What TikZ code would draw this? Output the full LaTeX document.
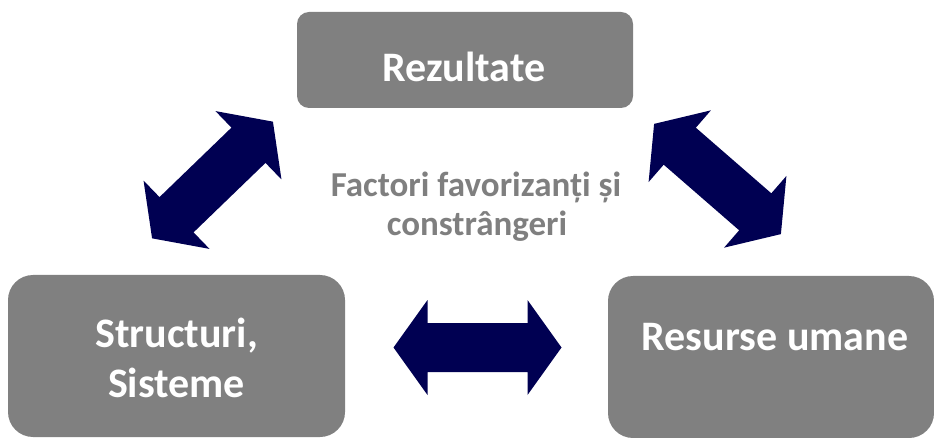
\documentclass[tikz,border=0pt]{standalone}
\usepackage{fontspec}
\setmainfont{Carlito}
\definecolor{boxgray}{RGB}{128,128,128}
\definecolor{navy}{RGB}{0,0,82}
\definecolor{txtgray}{RGB}{127,127,127}
\begin{document}
\begin{tikzpicture}[x=1pt,y=1pt,
  box/.style={fill=boxgray, draw=none, inner sep=0pt},
  lbl/.style={text=white, font=\fontsize{42}{48}\selectfont\bfseries, anchor=base, inner sep=0pt},
  mid/.style={text=txtgray, font=\fontsize{35}{38}\selectfont\bfseries, anchor=base, inner sep=0pt},
  barrow/.pic={\fill[navy] (84,0) -- (50,47.5) -- (50,24.5) -- (-50,24.5) -- (-50,47.5) -- (-84,0) -- (-50,-47.5) -- (-50,-24.5) -- (50,-24.5) -- (50,-47.5) -- cycle;}
]
\useasboundingbox (0,0) rectangle (934,-438);
% boxes
\node[box, rounded corners=12pt, minimum width=336pt, minimum height=96pt] (rez) at (465,-60) {};
\node[box, rounded corners=25pt, minimum width=337pt, minimum height=162pt] (str) at (176.5,-356) {};
\node[box, rounded corners=25pt, minimum width=326pt, minimum height=162pt] (res) at (771,-357) {};
% labels
\node[lbl] (trez) at (464,-82) {Rezultate};
\node[lbl] (tstr1) at (176.5,-347) {Structuri,};
\node[lbl] (tstr2) at (176.5,-397) {Sisteme};
\node[lbl] (tres) at (775,-350) {Resurse umane};
% centre text
\begin{scope}
\clip (280,-150) rectangle (660,-244);
\node[mid] (tf1) at (476,-197) {Factori favorizanți și};
\node[mid] (tf2) at (477,-236) {constrângeri};
\end{scope}
% block arrows
\pic[rotate=44] (al) at (212.5,-180) {barrow};
\pic[rotate=-41] (ar) at (717.5,-179) {barrow};
\pic (ab) at (477.5,-347.5) {barrow};
\end{tikzpicture}
\end{document}
